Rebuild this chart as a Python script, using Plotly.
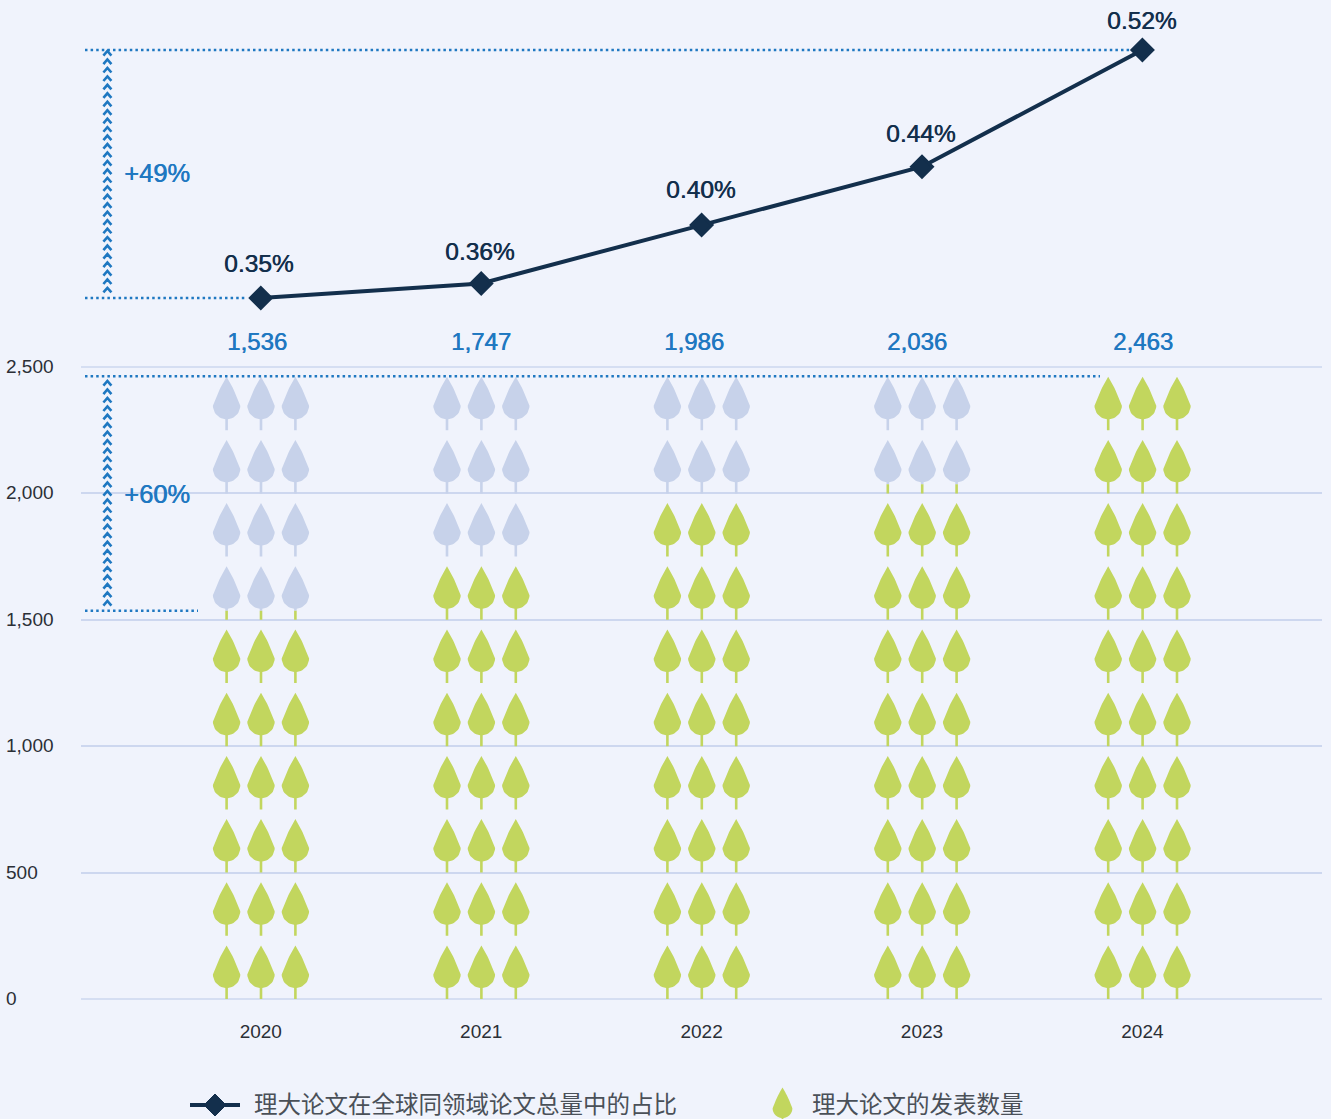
import math
import plotly.graph_objects as go

# Publication data
years = [2020, 2021, 2022, 2023, 2024]
paper_counts = [1536, 1747, 1986, 2036, 2463]
count_labels = ["1,536", "1,747", "1,986", "2,036", "2,463"]
global_share = [0.35, 0.36, 0.40, 0.44, 0.52]
share_labels = ["0.35%", "0.36%", "0.40%", "0.44%", "0.52%"]
count_ticks = [0, 500, 1000, 1500, 2000, 2500]
count_tick_labels = ["0", "500", "1,000", "1,500", "2,000", "2,500"]

LEAF_UNIT = 250            # papers represented by one row of leaves
LEAF_ROWS = 10

BG = "#f0f3fc"
GRID = "#cdd7ef"
GHOST = "#c7d2ea"
GREEN = "#c2d65e"
NAVY = "#132f4c"
BLUE = "#1f78c1"
TEXT = "#2b2f36"
LATIN = "Liberation Sans, Arial, sans-serif"
CJK = "Noto Sans CJK SC, sans-serif"

# Page geometry of the plot area
W, H = 1331, 1119
LEFT, RIGHT = 81, 1322
BOTTOM, TOP_COUNT = 999, 367
YEAR_PX = 220.4
YEAR0_PX = 260.8
COUNT_PER_PX = 2500 / (BOTTOM - TOP_COUNT)
SHARE_PER_PX = 0.17 / 248


def px_x(px):
    return (px - LEFT) / (RIGHT - LEFT)


def px_y(py):
    return (BOTTOM - py) / BOTTOM


def medium_font(color, size):
    # A hairline text shadow thickens the regular cut to a medium weight
    return dict(family=LATIN, size=size, color=color, shadow=f"0.6px 0 0 {color}")


def leaf_outline(scale=1.0):
    """Leaf and stem outline as (dx, height) in pixels above the stem foot."""
    pts = []
    apex, ctrl, side = (0, 53.5), (7.5, 41.5), (13.7, 24.5)
    for i in range(13):
        t = i / 12
        x = (1 - t) ** 2 * apex[0] + 2 * t * (1 - t) * ctrl[0] + t * t * side[0]
        y = (1 - t) ** 2 * apex[1] + 2 * t * (1 - t) * ctrl[1] + t * t * side[1]
        pts.append((x, y))
    for i in range(1, 13):
        a = -math.pi / 2 * i / 12
        pts.append((13.7 * math.cos(a), 24.5 + 13.5 * math.sin(a)))
    pts[-1] = (1.3, 11.05)
    pts += [(1.3, 0), (-1.3, 0), (-1.3, 11.05)]
    left = [(-x, y) for x, y in reversed(pts[:-4])]
    return [(x * scale, y * scale) for x, y in pts + left]


def clip_band(poly, low, high):
    """Clip a polygon to a horizontal band (Sutherland-Hodgman on each edge)."""
    def clip(points, inside, level):
        out = []
        for i, p in enumerate(points):
            q = points[(i + 1) % len(points)]
            if inside(p):
                out.append(p)
            if inside(p) != inside(q):
                t = (level - p[1]) / (q[1] - p[1])
                out.append((p[0] + t * (q[0] - p[0]), level))
        return out

    res = clip(poly, lambda p: p[1] >= low, low)
    if res:
        res = clip(res, lambda p: p[1] <= high, high)
    return res


# Leaves in data units: three per year, one row per LEAF_UNIT papers
outline = leaf_outline()
green_x, green_y, ghost_x, ghost_y = [], [], [], []
for year, count in zip(years, paper_counts):
    for col in (-1, 0, 1):
        base_x = year + col * 34.4 / YEAR_PX + 0.2 / YEAR_PX
        for row in range(LEAF_ROWS):
            base_y = row * LEAF_UNIT
            poly = [(base_x + dx / YEAR_PX, base_y + h * COUNT_PER_PX) for dx, h in outline]
            for part, xs, ys in (
                (clip_band(poly, -1e9, count), green_x, green_y),
                (clip_band(poly, count, 1e9), ghost_x, ghost_y),
            ):
                if part:
                    xs.extend([p[0] for p in part] + [part[0][0], None])
                    ys.extend([p[1] for p in part] + [part[0][1], None])

fig = go.Figure()
for xs, ys, color in ((ghost_x, ghost_y, GHOST), (green_x, green_y, GREEN)):
    fig.add_trace(go.Scatter(x=xs, y=ys, mode="lines", fill="toself", fillcolor=color,
                             line=dict(width=0, color=color), hoverinfo="skip",
                             showlegend=False, yaxis="y"))

fig.add_trace(go.Scatter(x=years, y=global_share, mode="lines+markers", yaxis="y2",
                         line=dict(color=NAVY, width=4),
                         marker=dict(symbol="diamond", size=16, color=NAVY,
                                     line=dict(color=NAVY, width=3)),
                         cliponaxis=False, showlegend=False))

shapes = []
# Plotly omits grid lines that sit on the ends of the range, so these two are explicit
for py in (BOTTOM, TOP_COUNT):
    shapes.append(dict(type="line", xref="paper", yref="paper", x0=0, x1=1,
                       y0=px_y(py), y1=px_y(py), layer="below",
                       line=dict(color=GRID, width=1.5)))

# Reference levels and the growth brackets
for value, yref, x_end in ((0.52, "y2", 1130), (0.35, "y2", 245),
                           (2463, "y", 1100), (1536, "y", 198)):
    shapes.append(dict(type="line", xref="paper", yref=yref, x0=px_x(85), x1=px_x(x_end),
                       y0=value, y1=value, line=dict(color=BLUE, width=2.5, dash="2.5px,3.1px")))

for first, last in ((51, 290), (381, 602)):
    path, tip = "", first
    while tip <= last:
        path += "M{:.5f},{:.5f} L{:.5f},{:.5f} L{:.5f},{:.5f} ".format(
            px_x(103.4), px_y(tip + 4.6), px_x(107.4), px_y(tip), px_x(111.4), px_y(tip + 4.6))
        tip += 8.46
    shapes.append(dict(type="path", xref="paper", yref="paper", path=path,
                       line=dict(color=BLUE, width=2.6)))

# Legend glyphs
shapes.append(dict(type="line", xref="paper", yref="paper", x0=px_x(190), x1=px_x(240),
                   y0=px_y(1105), y1=px_y(1105), line=dict(color=NAVY, width=4)))
diamond = [(215, 1094), (226, 1105), (215, 1116), (204, 1105)]
shapes.append(dict(type="path", xref="paper", yref="paper", fillcolor=NAVY,
                   line=dict(color=NAVY, width=1),
                   path="M" + " L".join(f"{px_x(a):.5f},{px_y(b):.5f}" for a, b in diamond) + " Z"))
icon = leaf_outline(0.72)
shapes.append(dict(type="path", xref="paper", yref="paper", fillcolor=GREEN,
                   line=dict(width=0),
                   path="M" + " L".join(f"{px_x(782.5 + a):.5f},{px_y(1126 - b):.5f}" for a, b in icon) + " Z"))

# Text
ann = []
for tick, label in zip(count_ticks, count_tick_labels):
    ann.append(dict(xref="paper", yref="y", x=px_x(4), y=tick, yshift=0.5, text=label, showarrow=False,
                    xanchor="left", yanchor="middle", font=dict(family=LATIN, size=19, color=TEXT)))

share_lift = [35, 32, 36, 33, 30]
share_nudge = [-2, -2, -1, -2, -1]
for year, share, label, lift, nudge in zip(years, global_share, share_labels, share_lift, share_nudge):
    ann.append(dict(xref="x", yref="y2", x=year, y=share, text=label, showarrow=False,
                    yshift=lift, xshift=nudge, xanchor="center", yanchor="middle",
                    font=medium_font(NAVY, 24.5)))

count_nudge = [-3.5, 0, -8, -5, 0.5]
for year, label, nudge in zip(years, count_labels, count_nudge):
    ann.append(dict(xref="x", yref="paper", x=year, y=px_y(342), text=label, showarrow=False,
                    xshift=nudge, xanchor="center", yanchor="middle",
                    font=medium_font(BLUE, 24)))

for label, py in (("+49%", 172.5), ("+60%", 494)):
    ann.append(dict(xref="paper", yref="paper", x=px_x(122), y=px_y(py), text=label, showarrow=False,
                    xanchor="left", yanchor="middle",
                    font=medium_font(BLUE, 25.5)))

for label, px in (("理大论文在全球同领域论文总量中的占比", 252), ("理大论文的发表数量", 810)):
    ann.append(dict(xref="paper", yref="paper", x=px_x(px), y=px_y(1102.5), text=label, showarrow=False,
                    xanchor="left", yanchor="middle", font=dict(family=CJK, size=23.5, color="#4a5058")))

x0 = years[0] + (LEFT - YEAR0_PX) / YEAR_PX
x1 = years[0] + (RIGHT - YEAR0_PX) / YEAR_PX
split = (BOTTOM - TOP_COUNT) / BOTTOM
share_bottom = global_share[0] - (TOP_COUNT - 298) * SHARE_PER_PX
share_top = global_share[-1] + 50 * SHARE_PER_PX

fig.update_layout(
    width=W, height=H, autosize=False,
    margin=dict(l=LEFT, r=W - RIGHT, t=0, b=H - BOTTOM, pad=0),
    paper_bgcolor=BG, plot_bgcolor=BG,
    shapes=shapes, annotations=ann, showlegend=False,
    xaxis=dict(range=[x0, x1], tickvals=years, ticktext=[str(y) for y in years], showgrid=False,
               zeroline=False, showline=False, ticks="", ticklabelstandoff=19,
               tickfont=dict(family=LATIN, size=19, color=TEXT)),
    yaxis=dict(domain=[0, split], range=[0, 2500], tickvals=count_ticks, showticklabels=False,
               showgrid=True, gridcolor=GRID, gridwidth=1.5, zeroline=False, showline=False, ticks=""),
    yaxis2=dict(domain=[split, 1], range=[share_bottom, share_top], overlaying=None, anchor="x",
                visible=False, showgrid=False, zeroline=False),
)

fig.write_html("out.html")
